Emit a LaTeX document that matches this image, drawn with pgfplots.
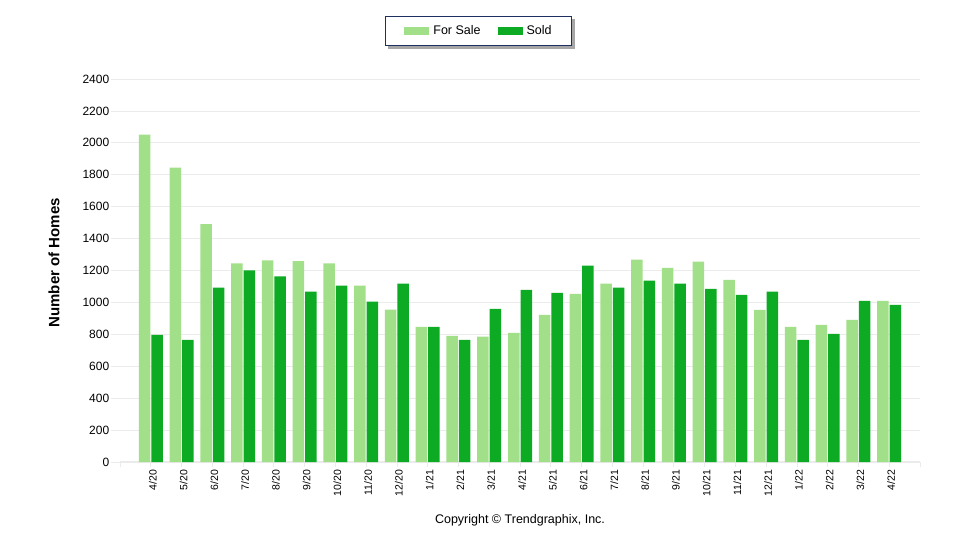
\documentclass[border=0pt]{standalone}
\usepackage{pgfplots}
\pgfplotsset{compat=1.18}
\usepackage{fontspec}
\setmainfont{Liberation Sans}
\definecolor{forsale}{HTML}{A1E089}
\definecolor{sold}{HTML}{0DAB24}
\definecolor{gridgray}{HTML}{EBEBEB}
\definecolor{legframe}{HTML}{1F2F5F}
\begin{document}
\begin{tikzpicture}
\useasboundingbox (0pt,0pt) rectangle (960pt,550pt);
% legend shadow
\fill[black!35] (388pt,501pt) rectangle (575pt,531pt);
\begin{axis}[
    at={(120pt,88pt)}, anchor=south west,
    scale only axis,
    width=800pt, height=383pt,
    ybar=1pt,
    bar width=11.5pt,
    xmin=-1, xmax=25,
    ymin=0, ymax=2400,
    ytick={0,200,...,2400},
    xtick={-1,0,...,25},
    xticklabels={,4/20,5/20,6/20,7/20,8/20,9/20,10/20,11/20,12/20,1/21,2/21,3/21,4/21,5/21,6/21,7/21,8/21,9/21,10/21,11/21,12/21,1/22,2/22,3/22,4/22,},
    axis x line*=bottom,
    axis y line*=left,
    x axis line style={draw=gridgray, line width=1.5pt, -},
    y axis line style={draw=none},
    tick align=outside,
    xtick style={draw=gridgray, line width=0.8pt, /pgfplots/major tick length=5pt},
    ytick style={draw=gridgray, line width=0.8pt, /pgfplots/major tick length=9pt},
    ymajorgrids=true,
    grid style={gridgray, line width=0.8pt},
    /pgf/number format/assume math mode=true,
    /pgf/number format/1000 sep={},
    yticklabel style={font=\fontsize{12}{14}\selectfont, xshift=-3pt},
    xticklabel style={font=\fontsize{10.5}{12}\selectfont, rotate=90, anchor=east, yshift=-2pt},
    ylabel={\textbf{Number of Homes}},
    ylabel style={font=\fontsize{15}{17}\selectfont, at={(rel axis cs:-0.0825,0.52)}, anchor=center, rotate=0},
    legend columns=2,
    legend style={
        at={(478.5pt-120pt,519pt-88pt)}, anchor=center,
        draw=legframe, line width=0.8pt, fill=white,
        font=\fontsize{12.5}{14}\selectfont,
        inner xsep=19pt, inner ysep=8.5pt,
        nodes={inner sep=1pt},
        /tikz/every odd column/.append style={column sep=3pt},
        /tikz/every even column/.append style={column sep=16pt},
    },
    legend image code/.code={\fill[#1] (0pt,-3.7pt) rectangle (25pt,3.7pt);},
    legend cell align=left,
]
\addplot[draw=none, fill=forsale] coordinates {
(0,2052) (1,1844) (2,1491) (3,1245) (4,1264) (5,1258) (6,1245) (7,1106) (8,955)
(9,847) (10,790) (11,785) (12,809) (13,922) (14,1054) (15,1117) (16,1268) (17,1217)
(18,1255) (19,1142) (20,953) (21,847) (22,859) (23,891) (24,1010)};
\addplot[draw=none, fill=sold] coordinates {
(0,797) (1,765) (2,1093) (3,1201) (4,1163) (5,1068) (6,1106) (7,1005) (8,1117)
(9,847) (10,765) (11,960) (12,1079) (13,1060) (14,1230) (15,1092) (16,1136) (17,1117)
(18,1085) (19,1048) (20,1067) (21,765) (22,803) (23,1010) (24,985)};
\legend{For Sale,Sold}
\end{axis}
\node[font=\fontsize{12.5}{14}\selectfont] at (520pt,30pt) {Copyright © Trendgraphix, Inc.};
\end{tikzpicture}
\end{document}
